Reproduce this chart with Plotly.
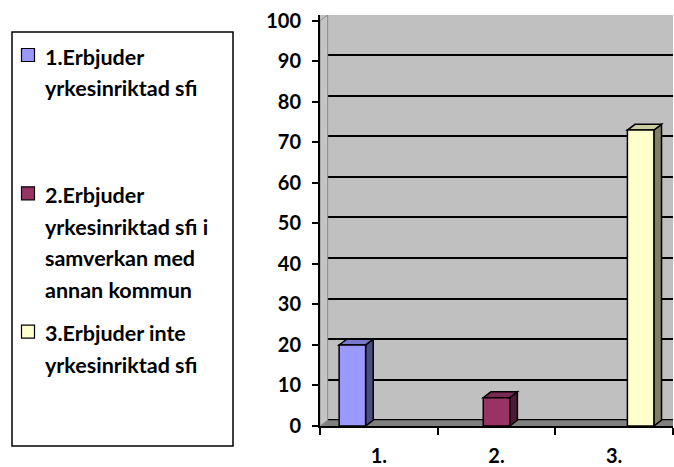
import plotly.graph_objects as go

# ---- data ----
categories = ["1.", "2.", "3."]
values = [20, 7, 73]
legend_labels = [
    "1.Erbjuder\nyrkesinriktad sfi",
    "2.Erbjuder\nyrkesinriktad sfi i\nsamverkan med\nannan kommun",
    "3.Erbjuder inte\nyrkesinriktad sfi",
]
y_ticks = [0, 10, 20, 30, 40, 50, 60, 70, 80, 90, 100]

# ---- styles ----
front_colors = ["#9999FF", "#993366", "#FFFFCC"]
side_colors = ["#4D4D85", "#4F1A35", "#808066"]
top_colors = ["#7878CC", "#7A2952", "#CCCCA3"]
FONT = "Lato, 'DejaVu Sans', sans-serif"

W, H = 674, 467
ML, MR, MT, MB = 320, 1, 15, 41
PW, PH = W - ML - MR, H - MT - MB

Y_TOP = 101.4
BAR_W = 0.225
DX = 0.065      # depth in category units
DY = 1.43       # depth in value units


def px_x(p):
    return (p - ML) / PW


def px_y(p):
    return (H - MB - p) / PH


fig = go.Figure()
shapes = []

# floor
shapes.append(dict(type="rect", xref="x", yref="y", x0=-0.5, x1=2.5, y0=0, y1=DY,
                   fillcolor="#808080", line=dict(width=0), layer="between"))
# left side wall
shapes.append(dict(type="path", xref="x", yref="y",
                   path=f"M -0.5,0 L {-0.5 + DX},{DY} L {-0.5 + DX},{Y_TOP} L -0.5,{Y_TOP - DY} Z",
                   fillcolor="#C4C4C4", line=dict(color="#8C8C8C", width=1), layer="between"))

for i, (cat, v) in enumerate(zip(categories, values)):
    off = (i - 1) * BAR_W - BAR_W / 2
    fig.add_trace(go.Bar(
        x=[cat], y=[v], width=BAR_W, offset=off,
        marker=dict(color=front_colors[i], line=dict(color="black", width=1.5)),
        name=legend_labels[i].replace("\n", " "), showlegend=False,
        hoverinfo="y",
    ))
    xl = i + off
    xr = xl + BAR_W
    # side face
    shapes.append(dict(type="path", xref="x", yref="y",
                       path=f"M {xr},0 L {xr + DX},{DY} L {xr + DX},{v + DY} L {xr},{v} Z",
                       fillcolor=side_colors[i], line=dict(color="black", width=1.5),
                       layer="between"))
    # top face
    shapes.append(dict(type="path", xref="x", yref="y",
                       path=f"M {xl},{v} L {xr},{v} L {xr + DX},{v + DY} L {xl + DX},{v + DY} Z",
                       fillcolor=top_colors[i], line=dict(color="black", width=1.5),
                       layer="between"))

# invisible trace on y2 for the back-wall gridlines
fig.add_trace(go.Scatter(x=categories, y=[None] * len(categories), yaxis="y2",
                         showlegend=False, hoverinfo="skip"))

# ---- manual legend ----
shapes.append(dict(type="rect", xref="paper", yref="paper",
                   x0=px_x(12), x1=px_x(233), y0=px_y(446), y1=px_y(32),
                   fillcolor="white", line=dict(color="black", width=1.5)))
annotations = []
ITEM_STEP = 138.3
LINE_STEP = 31.7
for i, lab in enumerate(legend_labels):
    sq_c = 55 + i * ITEM_STEP
    shapes.append(dict(type="rect", xref="paper", yref="paper",
                       x0=px_x(21.5), x1=px_x(34.5), y0=px_y(sq_c + 6.5), y1=px_y(sq_c - 6.5),
                       fillcolor=front_colors[i], line=dict(color="black", width=1.2)))
    for j, line in enumerate(lab.split("\n")):
        yc = 56.7 + i * ITEM_STEP + j * LINE_STEP
        annotations.append(dict(xref="paper", yref="paper", x=px_x(43), y=px_y(yc),
                                xanchor="left", yanchor="middle", showarrow=False,
                                text=line, font=dict(family=FONT, size=21.5, color="black",
                                                     weight="bold")))

fig.update_layout(
    width=W, height=H,
    margin=dict(l=ML, r=MR, t=MT, b=MB, autoexpand=False),
    paper_bgcolor="white", plot_bgcolor="#C0C0C0",
    barmode="overlay",
    showlegend=False,
    shapes=shapes, annotations=annotations,
    xaxis=dict(
        type="category", categoryorder="array", categoryarray=categories,
        range=[-0.5, 2.5], tickson="boundaries", ticks="outside", ticklen=7,
        tickcolor="black", tickwidth=2,
        showline=True, linecolor="black", linewidth=2, showgrid=False,
        tickfont=dict(family=FONT, size=20, color="black", weight="bold"),
        ticklabelstandoff=11, automargin=False, fixedrange=True,
    ),
    yaxis=dict(
        range=[0, Y_TOP], tickvals=y_ticks, ticks="outside", ticklen=6,
        tickcolor="black", tickwidth=2,
        showline=True, linecolor="black", linewidth=2, showgrid=False, zeroline=False,
        tickfont=dict(family=FONT, size=20, color="black", weight="bold"),
        ticklabelstandoff=7, automargin=False, fixedrange=True,
    ),
    yaxis2=dict(
        overlaying="y", range=[-DY, Y_TOP - DY - 0.05], tickvals=y_ticks,
        showgrid=True, gridcolor="black", gridwidth=2, showticklabels=False,
        zeroline=False, showline=False, fixedrange=True,
    ),
)

fig.write_html("out.html", config={"displayModeBar": False},
               post_script="document.body.style.margin='0';document.body.style.overflow='hidden';")
